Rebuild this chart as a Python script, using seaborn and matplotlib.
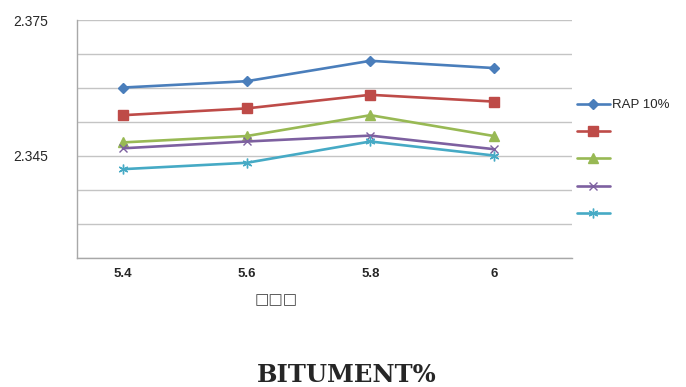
import matplotlib
matplotlib.use("Agg")
import matplotlib.pyplot as plt
from matplotlib.ticker import FixedLocator, FixedFormatter
import numpy as np
import pandas as pd
import seaborn as sns

# Bitumen content categories on the x axis
bitumen = ["5.4", "5.6", "5.8", "6"]

# Bulk specific gravity for each mix
rap_10 = [2.3601, 2.3615, 2.3660, 2.3644]
rap_20 = [2.3540, 2.3555, 2.3585, 2.3570]
rap_30 = [2.3480, 2.3494, 2.3540, 2.3494]
rap_40 = [2.3467, 2.3482, 2.3495, 2.3465]
rap_50 = [2.3421, 2.3435, 2.3482, 2.3451]

series_names = ["RAP 10%", "RAP 20%", "RAP 30%", "RAP 40%", "RAP 50%"]
legend_labels = ["RAP 10%", " ", " ", " ", " "]
y_tick_labels = {2.375: "2.375", 2.345: "2.345"}

x_label = "\u25a1\u25a1\u25a1"
title = "BITUMENT%"

colors = ["#4a7ebb", "#be4b48", "#98b954", "#7d60a0", "#46aac5"]
markers = ["D", "s", "^", "x", (6, 2, 0)]
msizes = [5, 7.5, 7, 6, 7]

values = [rap_10, rap_20, rap_30, rap_40, rap_50]
df = pd.DataFrame({
    "pos": np.tile(np.arange(len(bitumen)), len(series_names)),
    "gmb": np.concatenate(values),
    "mix": np.repeat(series_names, len(bitumen)),
})

sns.set_style("white")
plt.rcParams["font.family"] = ["Liberation Sans", "DejaVu Sans"]

fig = plt.figure(figsize=(6.86, 3.87), dpi=100)
ax = fig.add_axes([77 / 686, 1 - 258 / 387, (572 - 77) / 686, (258 - 20) / 387])

for name, c, m, ms in zip(series_names, colors, markers, msizes):
    sns.lineplot(data=df[df["mix"] == name], x="pos", y="gmb", ax=ax,
                 color=c, marker=m, markersize=ms, linewidth=1.9,
                 markeredgecolor=c, markeredgewidth=1.0, legend=False,
                 errorbar=None)

# y axis: grid every 0.0075, labels only on two lines
ymin, ymax = 2.3225, 2.375
ax.set_ylim(ymin, ymax)
yt = np.round(np.arange(ymin, ymax + 1e-9, 0.0075), 4)
ax.yaxis.set_major_locator(FixedLocator(yt))
ax.yaxis.set_major_formatter(FixedFormatter(
    [y_tick_labels.get(round(float(v), 3), "") for v in yt]))
ax.grid(axis="y", color="#c4c4c4", linewidth=1.0)
ax.set_axisbelow(True)
ax.tick_params(axis="y", length=5, width=1, color="#a8a8a8", pad=16,
               labelsize=10)

# x axis: labels under the points, tick marks between categories
ax.set_xlim(-0.372, 3.63)
ax.set_xticks(range(len(bitumen)))
ax.set_xticklabels(bitumen, fontweight="bold", fontsize=9.5)
ax.tick_params(axis="x", length=0, pad=7)
ax.xaxis.set_minor_locator(FixedLocator([0.64, 1.64, 2.64, 3.63]))
ax.tick_params(axis="x", which="minor", length=3, color="#a8a8a8",
               direction="in")
ax.set_xlabel("")
ax.set_ylabel("")

for side in ["top", "right"]:
    ax.spines[side].set_visible(False)
for side in ["left", "bottom"]:
    ax.spines[side].set_color("#a8a8a8")
    ax.spines[side].set_linewidth(1.0)

handles = ax.get_lines()[:len(series_names)]
leg = fig.legend(handles, legend_labels, loc="upper left",
                 bbox_to_anchor=(577 / 686, 1 - 99 / 387), frameon=False,
                 fontsize=9.5, handlelength=2.5, handletextpad=0.15,
                 labelspacing=1.15, borderpad=0, borderaxespad=0)

fig.text(276 / 686, 1 - 300 / 387, x_label, ha="center", va="center",
         fontsize=11, color="#444444", family="DejaVu Sans")
fig.text(347 / 686, 1 - 375 / 387, title, ha="center", va="center",
         fontsize=17.5, fontweight="bold", family="DejaVu Serif")

fig.savefig("out.png", dpi=100)
